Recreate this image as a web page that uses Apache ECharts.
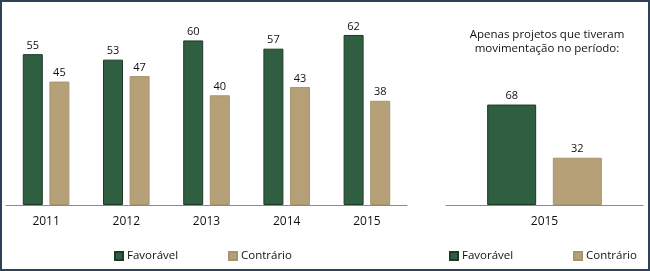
<!DOCTYPE html>
<html>
<head>
<meta charset="utf-8">
<script src="https://cdn.jsdelivr.net/npm/echarts@6/dist/echarts.min.js"></script>
<style>
  html, body { margin: 0; padding: 0; background: #fff; }
  #chart { width: 650px; height: 271px; }
</style>
</head>
<body>
<div id="chart"></div>
<script>
// values
const years = ['2011', '2012', '2013', '2014', '2015'];
const favoravel = [55, 53, 60, 57, 62];
const contrario = [45, 47, 40, 43, 38];

const periodYear = ['2015'];
const periodFavoravel = [68];
const periodContrario = [32];

const seriesNames = ['Favorável', 'Contrário'];
const periodTitle = 'Apenas projetos que tiveram\nmovimentação no período:';

const FONT = '"Open Sans", sans-serif';
const GREEN = '#2f5e40';
const GREEN_EDGE = '#1c3a27';
const TAN = '#b5a077';
const TAN_EDGE = '#a8946c';

const myChart = echarts.init(document.getElementById('chart'));

const labelStyle = {
  show: true,
  position: 'top',
  distance: 3,
  fontFamily: FONT,
  fontSize: 11,
  color: '#111'
};

const xAxisBase = {
  type: 'category',
  axisTick: { show: false },
  axisLine: { lineStyle: { color: '#8a8a8a', width: 1 } },
  axisLabel: { fontFamily: FONT, fontSize: 12, color: '#111', margin: 11 }
};

const legendBase = {
  icon: 'rect',
  itemWidth: 8,
  itemHeight: 8,
  itemGap: 4,
  top: 250,
  padding: 0,
  textStyle: { fontFamily: FONT, fontSize: 11.5, color: '#111', padding: [0, 0, 0, -1] }
};

const option = {
  animation: false,
  title: {
    text: periodTitle,
    left: 542,
    top: 23,
    textAlign: 'center',
    textStyle: { fontFamily: FONT, fontSize: 11.5, fontWeight: 'normal', color: '#111', lineHeight: 13.5 }
  },
  legend: [
    Object.assign({}, legendBase, { left: 114, data: [seriesNames[0]] }),
    Object.assign({}, legendBase, { left: 228, data: [seriesNames[1]] }),
    Object.assign({}, legendBase, { left: 449, data: [seriesNames[0]] }),
    Object.assign({}, legendBase, { left: 573, data: [seriesNames[1]] })
  ],
  grid: [
    { left: 6, right: 243, top: 13, bottom: 66 },
    { left: 446, right: 7, top: 13, bottom: 66 }
  ],
  xAxis: [
    Object.assign({}, xAxisBase, { gridIndex: 0, data: years }),
    Object.assign({}, xAxisBase, { gridIndex: 1, data: periodYear })
  ],
  yAxis: [
    { type: 'value', gridIndex: 0, min: 0, max: 70, show: false },
    { type: 'value', gridIndex: 1, min: 0, max: 130, show: false }
  ],
  series: [
    {
      name: seriesNames[0], type: 'bar', xAxisIndex: 0, yAxisIndex: 0,
      data: favoravel, barWidth: 20, barGap: '33%',
      itemStyle: { color: GREEN, borderColor: GREEN_EDGE, borderWidth: 1 },
      label: labelStyle
    },
    {
      name: seriesNames[1], type: 'bar', xAxisIndex: 0, yAxisIndex: 0,
      data: contrario, barWidth: 20, barGap: '33%',
      itemStyle: { color: TAN, borderColor: TAN_EDGE, borderWidth: 1 },
      label: labelStyle
    },
    {
      name: seriesNames[0], type: 'bar', xAxisIndex: 1, yAxisIndex: 1,
      data: periodFavoravel, barWidth: 49, barGap: '34%',
      itemStyle: { color: GREEN, borderColor: GREEN_EDGE, borderWidth: 1 },
      label: labelStyle
    },
    {
      name: seriesNames[1], type: 'bar', xAxisIndex: 1, yAxisIndex: 1,
      data: periodContrario, barWidth: 49, barGap: '34%',
      itemStyle: { color: TAN, borderColor: TAN_EDGE, borderWidth: 1 },
      label: labelStyle
    }
  ],
  graphic: [
    {
      type: 'rect',
      silent: true,
      shape: { x: 1, y: 1, width: 648, height: 269 },
      style: { fill: 'none', stroke: '#2f4156', lineWidth: 2 }
    }
  ]
};

myChart.setOption(option);
</script>
</body>
</html>
